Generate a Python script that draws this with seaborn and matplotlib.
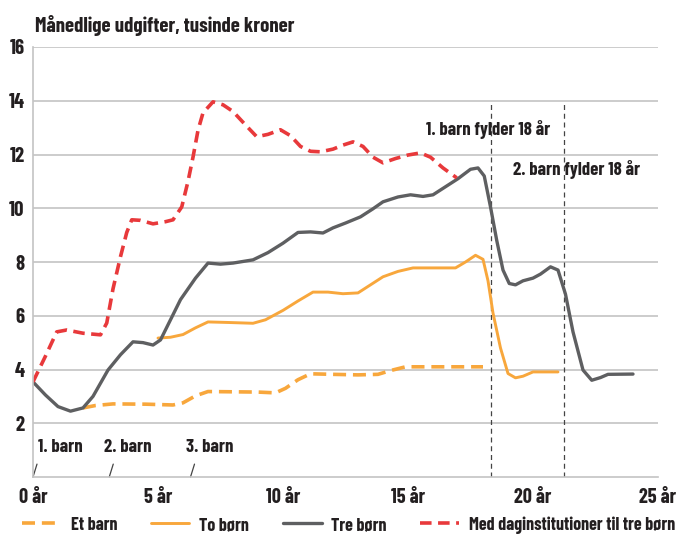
import matplotlib
matplotlib.use('Agg')
import matplotlib.pyplot as plt
import seaborn as sns
import pandas as pd

# Values: age of first child (years), monthly cost (1000 kr)
et_barn_aar = [2.0, 2.5, 3.2, 4.5, 5.6, 6.0, 6.5, 7.0, 8.0, 9.0, 9.7, 10.1, 10.6, 11.1,
               12.0, 13.0, 13.8, 14.3, 14.9, 16.0, 17.0, 18.0]
et_barn_kr = [2.57, 2.66, 2.72, 2.71, 2.68, 2.76, 3.02, 3.18, 3.17, 3.16, 3.13, 3.3, 3.62, 3.84,
              3.82, 3.8, 3.82, 3.96, 4.1, 4.1, 4.1, 4.1]

to_boern_aar = [5.0, 5.5, 6.0, 6.5, 7.0, 7.8, 8.8, 9.3, 10.0, 10.6, 11.2, 11.8, 12.4, 13.0,
                13.5, 14.0, 14.6, 15.2, 16.0, 16.9, 17.3, 17.7, 18.0, 18.2, 18.4, 18.7,
                19.0, 19.3, 19.6, 20.0, 21.0]
to_boern_kr = [5.17, 5.2, 5.3, 5.55, 5.77, 5.75, 5.72, 5.85, 6.2, 6.55, 6.88, 6.88, 6.82, 6.85,
               7.15, 7.45, 7.65, 7.78, 7.78, 7.78, 8.0, 8.25, 8.1, 7.3, 6.1, 4.8,
               3.85, 3.69, 3.75, 3.91, 3.91]

tre_boern_aar = [0, 0.5, 1.0, 1.5, 2.0, 2.4, 3.0, 3.5, 4.0, 4.4, 4.8, 5.1, 5.5, 5.9, 6.5, 7.0,
                 7.5, 8.0, 8.8, 9.4, 10.0, 10.6, 11.1, 11.6, 12.0, 12.5, 13.1, 13.6, 14.0,
                 14.6, 15.1, 15.6, 16.0, 16.5, 17.0, 17.5, 17.8, 18.05, 18.3, 18.55, 18.8,
                 19.05, 19.3, 19.6, 20.0, 20.3, 20.7, 21.0, 21.3, 21.6, 22.0, 22.35, 22.7,
                 23.0, 24.0]
tre_boern_kr = [3.54, 3.05, 2.62, 2.45, 2.57, 3.0, 3.98, 4.55, 5.03, 5.0, 4.91, 5.1, 5.85, 6.6,
                7.4, 7.96, 7.92, 7.96, 8.08, 8.35, 8.7, 9.1, 9.12, 9.08, 9.27, 9.45, 9.68,
                9.98, 10.24, 10.42, 10.5, 10.44, 10.5, 10.8, 11.1, 11.45, 11.5, 11.2, 10.05,
                8.8, 7.7, 7.2, 7.15, 7.3, 7.4, 7.55, 7.82, 7.7, 6.8, 5.4, 3.98, 3.6, 3.7,
                3.82, 3.83]

dag_aar = [0, 0.5, 0.95, 1.35, 2.0, 2.7, 2.95, 3.2, 3.5, 3.75, 3.95, 4.3, 4.8, 5.3, 5.6, 5.95,
           6.2, 6.4, 6.6, 6.8, 7.2, 7.6, 8.0, 8.5, 8.95, 9.4, 9.9, 10.3, 10.7, 11.1, 11.5,
           12.0, 12.4, 12.8, 13.2, 13.6, 14.0, 14.5, 15.0, 15.5, 15.9, 16.4, 16.95]
dag_kr = [3.54, 4.5, 5.4, 5.47, 5.35, 5.29, 5.73, 7.0, 8.2, 9.1, 9.57, 9.55, 9.42, 9.5, 9.57,
          10.05, 11.0, 11.9, 12.9, 13.55, 13.96, 13.85, 13.6, 13.1, 12.66, 12.75, 12.92,
          12.7, 12.3, 12.12, 12.1, 12.2, 12.35, 12.47, 12.3, 11.9, 11.69, 11.85, 11.98,
          12.06, 11.9, 11.5, 11.13]

foedsel_aar = [0, 3.05, 6.3]
foedsel_tekst = ['1. barn', '2. barn', '3. barn']
fylder_18_aar = [18.3, 21.25]
x_ticks = [0, 5, 10, 15, 20, 25]
x_tick_labels = ['0 år', '5 år', '10 år', '15 år', '20 år', '25 år']
y_ticks = [2, 4, 6, 8, 10, 12, 14, 16]

ORANGE = '#F8A73C'
RED = '#E8393B'
GRAY = '#5E5F61'
GRID = '#C4C4C4'
TEXT = '#231F20'

sns.set_theme(style="white")
plt.rcParams['font.family'] = ['Barlow Condensed', 'DejaVu Sans']
plt.rcParams['font.weight'] = 'bold'
plt.rcParams['lines.solid_joinstyle'] = 'round'
plt.rcParams['lines.dash_joinstyle'] = 'round'

fig = plt.figure(figsize=(6.8, 5.37), dpi=100)
ax = fig.add_axes([33 / 680, 1 - 477 / 537, 625 / 680, 430 / 537])

series = [
    ('Et barn', et_barn_aar, et_barn_kr, ORANGE, (0, (3.6, 1.9)), 2.6),
    ('To børn', to_boern_aar, to_boern_kr, ORANGE, '-', 2.1),
    ('Tre børn', tre_boern_aar, tre_boern_kr, GRAY, '-', 2.4),
    ('Med daginstitutioner til tre børn', dag_aar, dag_kr, RED, (0, (3.2, 1.8)), 2.6),
]
for name, xs, ys, col, ls, lw in series:
    df = pd.DataFrame({'aar': xs, 'kr': ys})
    sns.lineplot(data=df, x='aar', y='kr', ax=ax, color=col, linestyle=ls,
                 linewidth=lw, label=name, errorbar=None)

# lines where the first and second child turn 18
for xv in fylder_18_aar:
    ax.plot([xv, xv], [0, 14], color='#444444', lw=0.9, ls=(0, (4, 3)), zorder=1)

# birth markers along the x axis
for xv, txt in zip(foedsel_aar, foedsel_tekst):
    ax.plot([xv, xv + 0.16], [0, 0.48], color='#444444', lw=0.9, clip_on=False)
    ax.text(xv + 0.2 if xv == 0 else xv - 0.2, 1.08, txt, fontsize=13.5,
            va='center', ha='left', color=TEXT)

ax.text(15.72, 12.92, '1. barn fylder 18 år', fontsize=13.5, va='center', color=TEXT)
ax.text(19.2, 11.43, '2. barn fylder 18 år', fontsize=13.5, va='center', color=TEXT)

ax.set_xlim(0, 25)
ax.set_ylim(0, 16)
ax.set_xticks(x_ticks)
ax.set_xticklabels(x_tick_labels, fontsize=14.5)
ax.set_yticks(y_ticks)
ax.set_yticklabels([str(v) for v in y_ticks], fontsize=15)
ax.tick_params(axis='both', length=0, colors=TEXT)
ax.tick_params(axis='x', pad=8)
ax.tick_params(axis='y', pad=6)
ax.set_xlabel('')
ax.set_ylabel('')
ax.yaxis.grid(True, color=GRID, lw=1.2)
ax.xaxis.grid(False)
for side in ['top', 'right']:
    ax.spines[side].set_visible(False)
for side in ['left', 'bottom']:
    ax.spines[side].set_color(GRID)
    ax.spines[side].set_linewidth(1.2)

fig.text(35 / 680, 1 - 25 / 537, 'Månedlige udgifter, tusinde kroner', fontsize=15,
         va='center', ha='left', color=TEXT)

ax.legend(loc='center left', bbox_to_anchor=(22 / 680, 12 / 537), bbox_transform=fig.transFigure,
          ncol=4, frameon=False, fontsize=13, handlelength=2.15, handletextpad=0.55,
          columnspacing=1.85, borderpad=0, borderaxespad=0, labelcolor=TEXT)

fig.savefig('out.png', dpi=100)
